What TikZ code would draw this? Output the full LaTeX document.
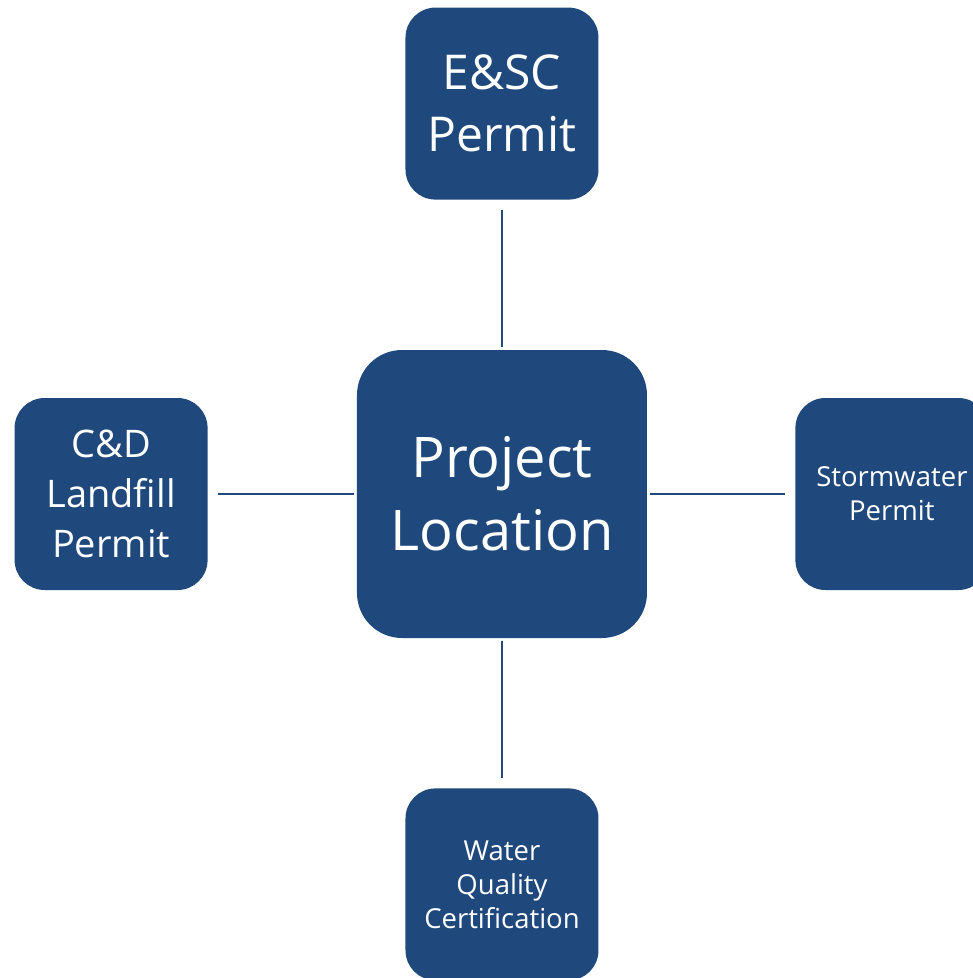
\documentclass[tikz,border=0pt]{standalone}
\usepackage{fontspec}
\setmainfont{Open Sans}
\usetikzlibrary{positioning}
\definecolor{permitblue}{RGB}{31,73,125}
\tikzset{
	hub/.style={rectangle, fill=permitblue, text=white, rounded corners=45pt, minimum width=290pt, minimum height=288pt, align=center, inner sep=0pt},
	permit/.style={rectangle, fill=permitblue, text=white, rounded corners=30pt, minimum width=193pt, minimum height=192pt, align=center, inner sep=0pt},
	link/.style={draw=permitblue, line width=2pt, shorten <=3pt, shorten >=10pt}
}
\begin{document}
\begin{tikzpicture}[node distance=150pt]
\useasboundingbox (-502pt,-484pt) rectangle (471pt,494pt);

\node[hub, font=\fontsize{56}{73}\selectfont] (location) at (0,0)
	{Project\\Location};

\node[permit, above=of location, font=\fontsize{48}{62}\selectfont] (esc)
	{E\&SC\\Permit};

\node[permit, left=149pt of location, font=\fontsize{38}{50}\selectfont] (landfill)
	{C\&D\\Landfill\\Permit};

\node[permit, right=148pt of location, font=\fontsize{27.5}{34}\selectfont] (stormwater)
	{Stormwater\\Permit};

\node[permit, below=of location, font=\fontsize{27.5}{34}\selectfont] (waterquality)
	{Water\\Quality\\Certification};

\draw [link] (location) -- (esc);
\draw [link] (location) -- (landfill);
\draw [link] (location) -- (stormwater);
\draw [link] (location) -- (waterquality);

\end{tikzpicture}
\end{document}
